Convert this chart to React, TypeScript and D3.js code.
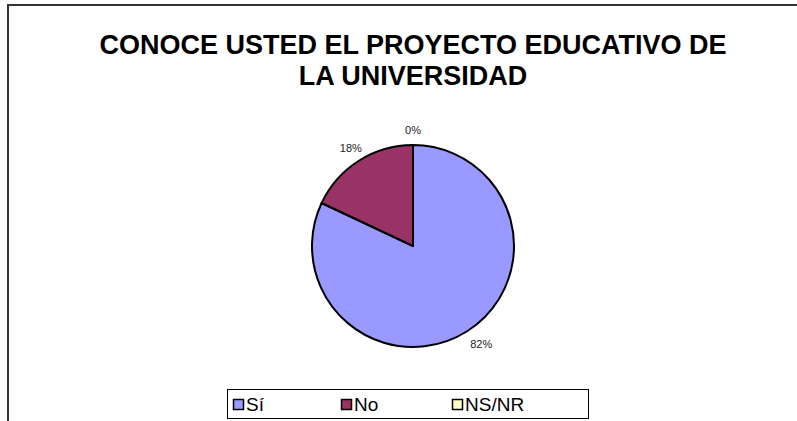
import React, { useEffect, useRef } from "react";
import * as d3 from "d3";

const width = 797;
const height = 421;

const categories = ["Sí", "No", "NS/NR"];
const values = [82, 18, 0];
const colors = ["#9999FF", "#993366", "#FFFFCC"];
const titleLines = ["CONOCE USTED EL PROYECTO EDUCATIVO DE", "LA UNIVERSIDAD"];

const cx = 413;
const cy = 246;
const radius = 101;

const App = () => {
  const ref = useRef<SVGSVGElement>(null);

  useEffect(() => {
    if (!ref.current) return;
    const svg = d3.select(ref.current);
    svg.selectAll("*").remove();

    // chart frame, runs off the right and bottom edge
    svg
      .append("rect")
      .attr("x", 8)
      .attr("y", 5)
      .attr("width", 820)
      .attr("height", 440)
      .attr("fill", "white")
      .attr("stroke", "#333")
      .attr("stroke-width", 2);

    svg
      .append("g")
      .attr("font-family", "Liberation Sans, Arial, sans-serif")
      .attr("font-weight", "bold")
      .attr("font-size", 27)
      .attr("text-anchor", "middle")
      .selectAll("text")
      .data(titleLines)
      .join("text")
      .attr("x", cx)
      .attr("y", (d, i) => 54 + i * 31)
      .text((d) => d);

    const pie = d3
      .pie<number>()
      .sort(null)
      .value((d) => d);
    const arcs = pie(values);
    const arc = d3.arc<d3.PieArcDatum<number>>().innerRadius(0).outerRadius(radius);
    const labelArc = d3
      .arc<d3.PieArcDatum<number>>()
      .innerRadius(radius + 15)
      .outerRadius(radius + 15);

    const g = svg.append("g").attr("transform", `translate(${cx},${cy})`);
    g.selectAll("path")
      .data(arcs)
      .join("path")
      .attr("d", arc)
      .attr("fill", (d, i) => colors[i])
      .attr("stroke", "black")
      .attr("stroke-width", 2)
      .attr("stroke-linejoin", "round");

    g.selectAll("text")
      .data(arcs)
      .join("text")
      .attr("transform", (d) => {
        const [x, y] = labelArc.centroid(d);
        return `translate(${x + (x > 5 ? 6 : 0)},${y})`;
      })
      .attr("text-anchor", "middle")
      .attr("dy", "0.35em")
      .attr("font-family", "Liberation Sans, Arial, sans-serif")
      .attr("font-size", 11)
      .attr("fill", "#222")
      .text((d) => `${Math.round(d.data)}%`);

    // legend
    const lx = d3.scaleOrdinal<string, number>().domain(categories).range([233, 341, 452]);
    const legend = svg.append("g");
    legend
      .append("rect")
      .attr("x", 227.5)
      .attr("y", 389.5)
      .attr("width", 361)
      .attr("height", 29)
      .attr("fill", "white")
      .attr("stroke", "black")
      .attr("stroke-width", 1);
    const item = legend
      .selectAll("g")
      .data(categories)
      .join("g")
      .attr("transform", (d) => `translate(${lx(d)},0)`);
    item
      .append("rect")
      .attr("x", 0.5)
      .attr("y", 399.5)
      .attr("width", 10)
      .attr("height", 10)
      .attr("fill", (d, i) => colors[i])
      .attr("stroke", "black")
      .attr("stroke-width", 1.5);
    item
      .append("text")
      .attr("x", 13)
      .attr("y", 411)
      .attr("font-family", "Liberation Sans, Arial, sans-serif")
      .attr("font-size", 19)
      .text((d) => d);
  }, []);

  return (
    <svg
      ref={ref}
      width={width}
      height={height}
      style={{ position: "absolute", left: 0, top: 0, background: "white" }}
    />
  );
};

export default App;
